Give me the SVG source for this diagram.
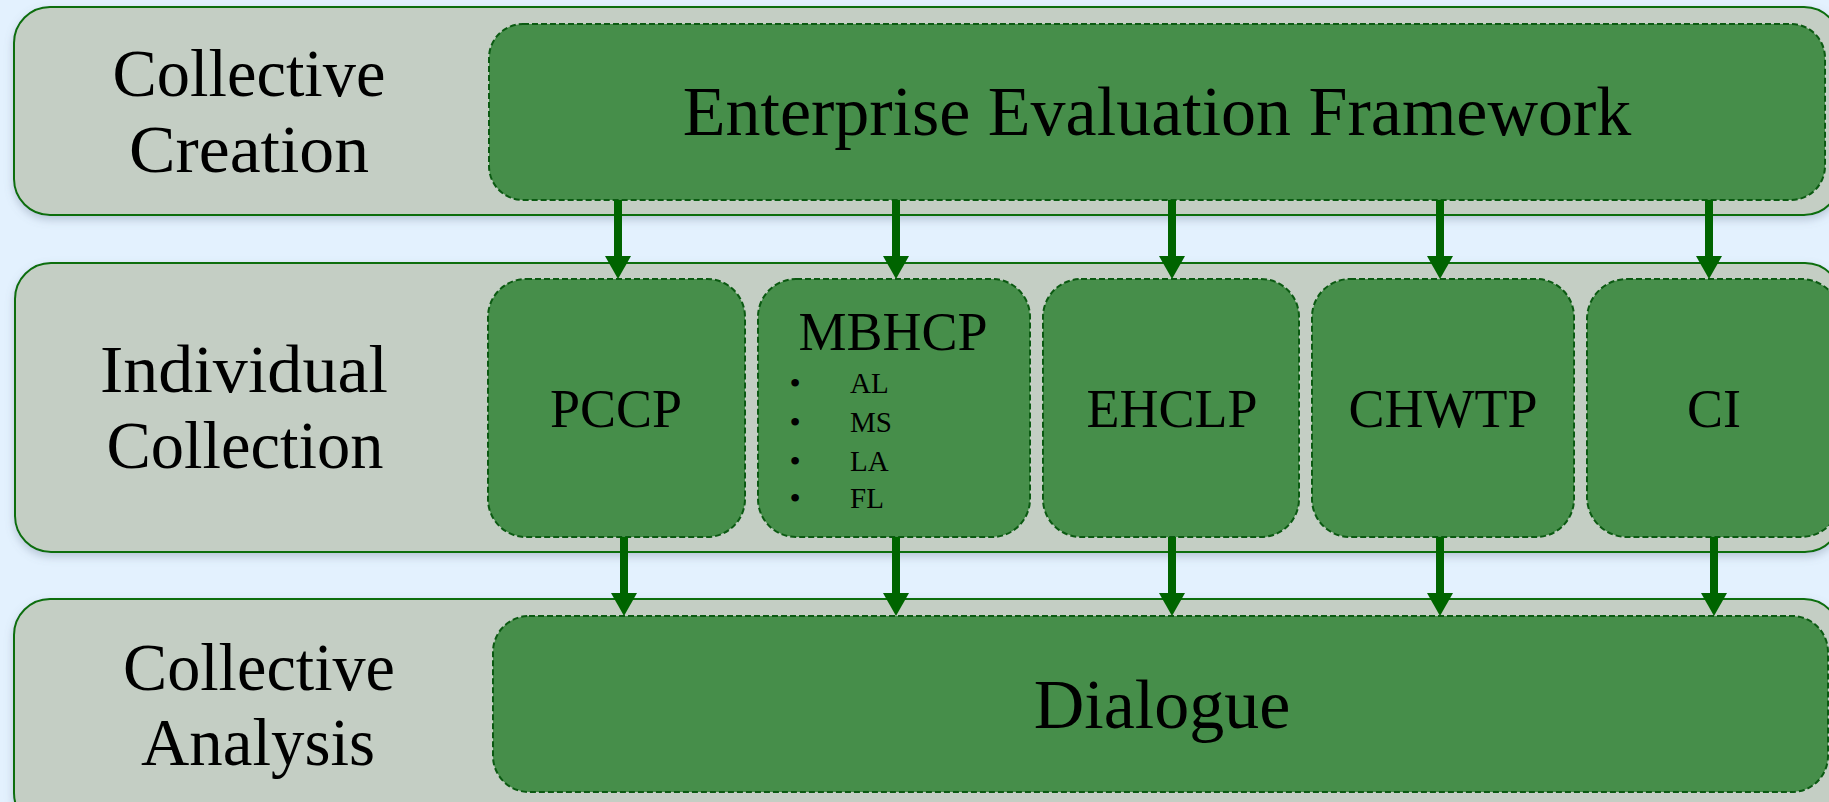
<svg xmlns="http://www.w3.org/2000/svg" width="1829" height="802" viewBox="0 0 1829 802">
  <style>
    .band { fill: #c4cec4; stroke: #0a6e0a; stroke-width: 2; filter: url(#bandShadow); }
    .box { fill: #468e4a; stroke: #0b5a12; stroke-width: 2; stroke-dasharray: 6 3; }
    .txt { font-family: "Liberation Serif", "Times New Roman", serif; fill: #000; }
    .lane { font-size: 68px; text-anchor: middle; }
    .big { font-size: 70px; text-anchor: middle; }
    .mid { font-size: 54px; text-anchor: middle; }
    .item { font-size: 29px; }
    .dot { font-size: 32px; text-anchor: middle; }
    .conn { stroke: #006400; stroke-width: 8; fill: none; marker-end: url(#head); }
  </style>
  <defs>
    <filter id="bandShadow" x="-5%" y="-10%" width="110%" height="130%">
      <feDropShadow dx="0" dy="4" stdDeviation="4" flood-color="#6a7a90" flood-opacity="0.35"/>
    </filter>
    <marker id="head" markerUnits="userSpaceOnUse" markerWidth="24" markerHeight="26" viewBox="0 0 24 26" refX="0" refY="13" orient="auto">
      <path d="M0,0 L23,13 L0,26 Z" fill="#006400"/>
    </marker>
  </defs>

  <rect width="1829" height="802" fill="#e3f1fe"/>

  <!-- swim lanes -->
  <g id="lane-creation">
    <rect class="band" x="14" y="7" width="1826" height="208" rx="36"/>
    <text class="txt lane" x="249" y="96" textLength="273" lengthAdjust="spacingAndGlyphs">Collective</text>
    <text class="txt lane" x="249" y="172" textLength="240" lengthAdjust="spacingAndGlyphs">Creation</text>
  </g>
  <g id="lane-collection">
    <rect class="band" x="15" y="263" width="1826" height="289" rx="36"/>
    <text class="txt lane" x="244" y="392" textLength="288" lengthAdjust="spacingAndGlyphs">Individual</text>
    <text class="txt lane" x="245" y="468" textLength="277" lengthAdjust="spacingAndGlyphs">Collection</text>
  </g>
  <g id="lane-analysis">
    <rect class="band" x="14" y="599" width="1826" height="230" rx="36"/>
    <text class="txt lane" x="259" y="690" textLength="272" lengthAdjust="spacingAndGlyphs">Collective</text>
    <text class="txt lane" x="258" y="765" textLength="234" lengthAdjust="spacingAndGlyphs">Analysis</text>
  </g>

  <!-- nodes -->
  <g id="node-eef">
    <rect class="box" x="489" y="24" width="1336" height="176" rx="34"/>
    <text class="txt big" x="1157" y="135">Enterprise Evaluation Framework</text>
  </g>
  <g id="node-pccp">
    <rect class="box" x="488" y="279" width="257" height="258" rx="38"/>
    <text class="txt mid" x="616" y="427">PCCP</text>
  </g>
  <g id="node-mbhcp">
    <rect class="box" x="758" y="279" width="272" height="258" rx="38"/>
    <text class="txt mid" x="893" y="350">MBHCP</text>
    <text class="txt dot" x="795" y="394">•</text>
    <text class="txt item" x="850" y="393">AL</text>
    <text class="txt dot" x="795" y="433">•</text>
    <text class="txt item" x="850" y="432">MS</text>
    <text class="txt dot" x="795" y="472">•</text>
    <text class="txt item" x="850" y="471">LA</text>
    <text class="txt dot" x="795" y="509">•</text>
    <text class="txt item" x="850" y="508">FL</text>
  </g>
  <g id="node-ehclp">
    <rect class="box" x="1043" y="279" width="256" height="258" rx="38"/>
    <text class="txt mid" x="1172" y="427">EHCLP</text>
  </g>
  <g id="node-chwtp">
    <rect class="box" x="1312" y="279" width="262" height="258" rx="38"/>
    <text class="txt mid" x="1443" y="427">CHWTP</text>
  </g>
  <g id="node-ci">
    <rect class="box" x="1587" y="279" width="254" height="258" rx="40"/>
    <text class="txt mid" x="1714" y="427">CI</text>
  </g>
  <g id="node-dialogue">
    <rect class="box" x="493" y="616" width="1335" height="176" rx="36"/>
    <text class="txt big" x="1162" y="728" font-size="68">Dialogue</text>
  </g>

  <!-- connectors -->
  <g id="connectors">
    <line class="conn" x1="618" y1="200" x2="618" y2="256"/>
    <line class="conn" x1="896" y1="200" x2="896" y2="256"/>
    <line class="conn" x1="1172" y1="200" x2="1172" y2="256"/>
    <line class="conn" x1="1440" y1="200" x2="1440" y2="256"/>
    <line class="conn" x1="1709" y1="200" x2="1709" y2="256"/>
    <line class="conn" x1="624" y1="537" x2="624" y2="593"/>
    <line class="conn" x1="896" y1="537" x2="896" y2="593"/>
    <line class="conn" x1="1172" y1="537" x2="1172" y2="593"/>
    <line class="conn" x1="1440" y1="537" x2="1440" y2="593"/>
    <line class="conn" x1="1714" y1="537" x2="1714" y2="593"/>
  </g>
</svg>
